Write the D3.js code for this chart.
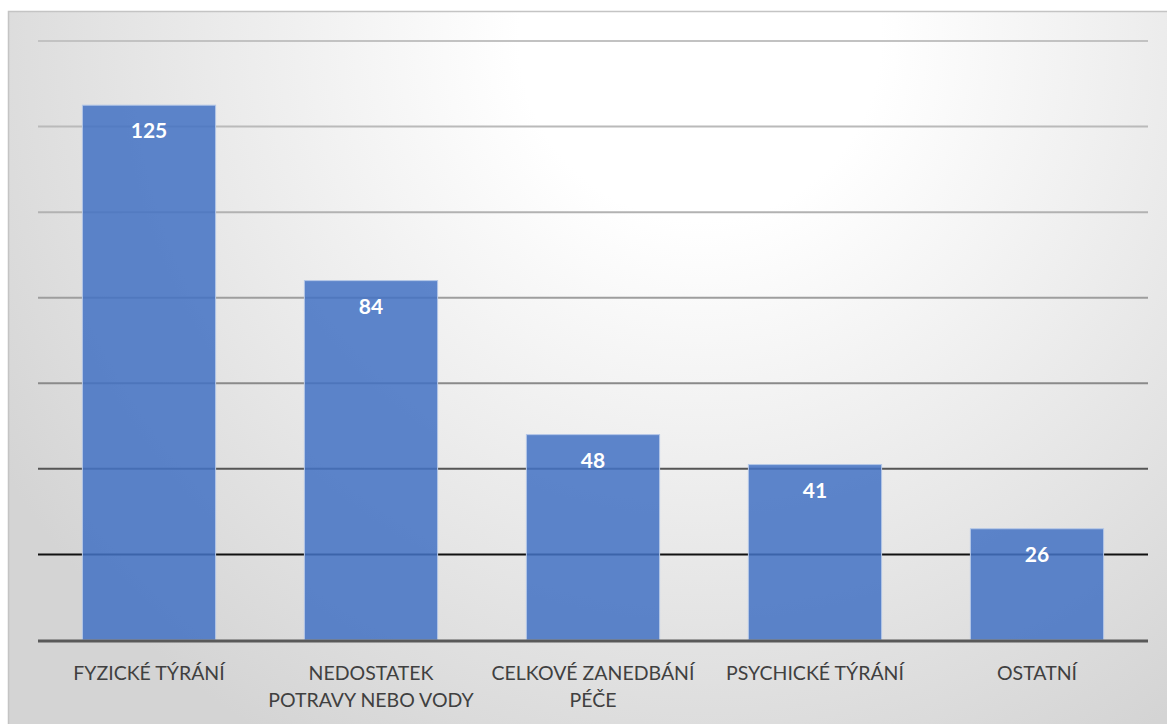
<!DOCTYPE html>
<html>
<head>
<meta charset="utf-8">
<script src="https://cdn.jsdelivr.net/npm/d3@7"></script>
<style>
  body { margin: 0; background: #fff; }
  svg { display: block; }
</style>
</head>
<body>
<svg id="chart"></svg>
<script>
const width = 1167;
const height = 724;

const categories = ['FYZICKÉ TÝRÁNÍ', 'NEDOSTATEK POTRAVY NEBO VODY', 'CELKOVÉ ZANEDBÁNÍ PÉČE', 'PSYCHICKÉ TÝRÁNÍ', 'OSTATNÍ'];
const values = [125, 84, 48, 41, 26];
const yTicks = [0, 20, 40, 60, 80, 100, 120, 140];

const plot = {left: 38, right: 1148, top: 41, bottom: 640};

const svg = d3.select('#chart')
    .attr('width', width)
    .attr('height', height);

const defs = svg.append('defs');
const bg = defs.append('radialGradient')
    .attr('id', 'bg')
    .attr('gradientUnits', 'userSpaceOnUse')
    .attr('cx', 700).attr('cy', 40).attr('r', 820);
bg.append('stop').attr('offset', '0%').attr('stop-color', '#ffffff');
bg.append('stop').attr('offset', '22%').attr('stop-color', '#ffffff');
bg.append('stop').attr('offset', '100%').attr('stop-color', '#d4d4d4');

// chart area frame
svg.append('rect')
    .attr('x', 8.5).attr('y', 11.5)
    .attr('width', width + 10).attr('height', height + 10)
    .attr('fill', 'url(#bg)')
    .attr('stroke', '#c4c4c4')
    .attr('stroke-width', 1.5);

const x = d3.scaleBand()
    .domain(categories)
    .range([plot.left, plot.right])
    .paddingInner(0.4)
    .paddingOuter(0.2);

const y = d3.scaleLinear()
    .domain([0, 140])
    .range([plot.bottom, plot.top]);

// gridlines get darker towards the bottom
const gridColor = d3.scaleLinear()
    .domain([140, 100, 60, 40, 20])
    .range(['#c2c2c2', '#b2b2b2', '#8a8a8a', '#555555', '#111111']);

svg.append('g')
    .selectAll('line')
    .data(yTicks.filter(d => d > 0))
    .enter().append('line')
    .attr('x1', plot.left).attr('x2', plot.right)
    .attr('y1', d => y(d)).attr('y2', d => y(d))
    .attr('stroke', d => gridColor(d))
    .attr('stroke-width', 2);

svg.append('g')
    .selectAll('rect')
    .data(values)
    .enter().append('rect')
    .attr('x', (d, i) => x(categories[i]))
    .attr('y', d => y(d))
    .attr('width', x.bandwidth())
    .attr('height', d => y(0) - y(d))
    .attr('fill', '#4472c4')
    .attr('fill-opacity', 0.86)
    .attr('stroke', '#b4c7e7')
    .attr('stroke-width', 1);

// baseline
svg.append('line')
    .attr('x1', plot.left).attr('x2', plot.right)
    .attr('y1', y(0) + 1).attr('y2', y(0) + 1)
    .attr('stroke', '#595959')
    .attr('stroke-width', 3);

svg.append('g')
    .selectAll('text')
    .data(values)
    .enter().append('text')
    .attr('x', (d, i) => x(categories[i]) + x.bandwidth() / 2)
    .attr('y', d => y(d) + 33)
    .attr('text-anchor', 'middle')
    .attr('fill', '#ffffff')
    .style('font-family', 'Lato, "Open Sans", sans-serif')
    .style('font-weight', 'bold')
    .style('font-size', '21px')
    .text(d => d);

// category labels with wrapping
const labels = svg.append('g')
    .selectAll('text')
    .data(categories)
    .enter().append('text')
    .attr('text-anchor', 'middle')
    .attr('fill', '#404040')
    .style('font-family', 'Lato, "Open Sans", sans-serif')
    .style('font-size', '19.5px');

labels.each(function(d) {
    const t = d3.select(this);
    const cx = x(d) + x.bandwidth() / 2;
    const words = d.split(' ');
    let lines = [];
    let line = [];
    const probe = t.append('tspan');
    words.forEach(w => {
        const test = line.concat(w).join(' ');
        probe.text(test);
        if (probe.node().getComputedTextLength() > 210 && line.length) {
            lines.push(line.join(' '));
            line = [w];
        } else {
            line.push(w);
        }
    });
    lines.push(line.join(' '));
    probe.remove();
    lines.forEach((l, i) => {
        t.append('tspan')
            .attr('x', cx)
            .attr('y', 680 + i * 27)
            .text(l);
    });
});
</script>
</body>
</html>
